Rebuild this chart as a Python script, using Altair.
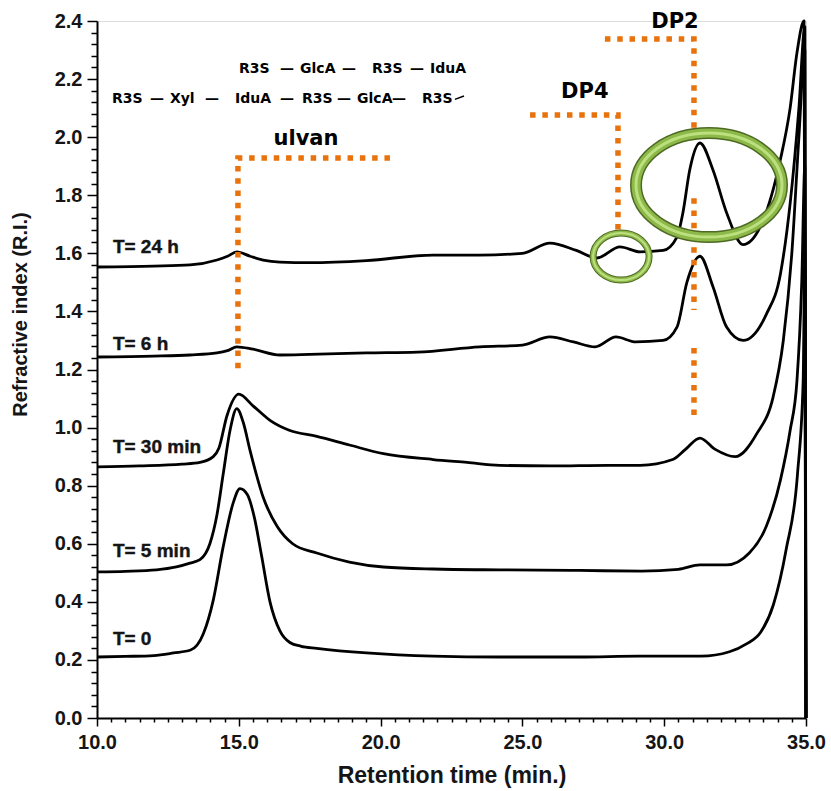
import altair as alt
import pandas as pd

# ---------------- data ----------------
series_names = ["T= 0", "T= 5 min", "T= 30 min", "T= 6 h", "T= 24 h"]

t0_t = [10.0, 11.0, 12.0, 12.7, 13.3, 13.75, 14.1, 14.45, 14.8, 15.04, 15.3, 15.55, 15.8, 16.1, 16.45,
        16.8, 17.2, 17.75, 19.5, 21.85, 24.2, 27.0, 29.1, 31.3, 32.3, 32.9, 33.4, 33.85, 34.3, 34.7,
        34.9, 34.96, 35.0]
t0_v = [0.21, 0.212, 0.215, 0.224, 0.234, 0.29, 0.406, 0.59, 0.74, 0.79, 0.77, 0.69, 0.56, 0.40, 0.30,
        0.26, 0.247, 0.24, 0.224, 0.213, 0.21, 0.21, 0.213, 0.213, 0.228, 0.255, 0.295, 0.39, 0.58, 0.84,
        1.16, 1.6, 0.0]

t5_t = [10.0, 11.0, 12.1, 12.8, 13.28, 13.63, 13.98, 14.23, 14.45, 14.69, 14.93, 15.15, 15.4, 15.86,
        16.35, 16.9, 17.75, 18.9, 20.1, 21.85, 24.2, 27.0, 29.2, 30.5, 31.26, 32.2, 33.0, 33.6, 34.1,
        34.44, 34.68, 34.85, 34.96, 35.0]
t5_v = [0.503, 0.505, 0.51, 0.52, 0.533, 0.545, 0.60, 0.70, 0.84, 0.99, 1.065, 1.02, 0.92, 0.76,
        0.66, 0.60, 0.568, 0.537, 0.52, 0.513, 0.51, 0.508, 0.506, 0.512, 0.527, 0.527, 0.568, 0.66,
        0.82, 0.99, 1.16, 1.5, 1.9, 0.0]

t30_t = [10.0, 11.5, 13.0, 13.63, 14.1, 14.3, 14.58, 15.0, 15.5, 16.1, 16.8, 17.75, 18.9, 20.1, 21.85,
         23.05, 24.2, 26.0, 28.0, 29.15, 30.3, 30.75, 31.26, 31.8, 32.5, 33.27, 33.84, 34.2, 34.5, 34.75,
         34.96, 35.0]
t30_v = [0.865, 0.868, 0.874, 0.88, 0.90, 0.93, 1.04, 1.115, 1.075, 1.025, 0.99, 0.97, 0.94, 0.91, 0.89,
         0.88, 0.87, 0.868, 0.87, 0.87, 0.89, 0.925, 0.964, 0.925, 0.90, 0.98, 1.105, 1.3, 1.6, 2.0,
         2.3, 0.0]

t6h_t = [10.0, 12.0, 13.28, 14.23, 14.6, 14.93, 15.5, 16.45, 17.5, 19.5, 21.3, 23.5, 25.0, 25.97, 26.8,
         27.56, 28.3, 29.0, 29.96, 30.45, 30.8, 31.26, 31.72, 32.2, 32.78, 33.6, 34.1, 34.45, 34.75,
         34.96, 35.0]
t6h_v = [1.243, 1.246, 1.25, 1.257, 1.265, 1.278, 1.27, 1.25, 1.252, 1.257, 1.26, 1.278, 1.284, 1.312,
         1.295, 1.278, 1.312, 1.295, 1.30, 1.346, 1.50, 1.59, 1.485, 1.346, 1.30, 1.39, 1.53, 1.78, 2.1,
         2.38, 0.0]

t24h_t = [10.0, 12.0, 13.28, 14.23, 14.6, 14.93, 15.4, 15.86, 16.45, 17.5, 19.5, 21.85, 23.5, 25.0,
          25.97, 26.9, 27.63, 28.44, 29.15, 29.96, 30.45, 30.66, 30.9, 31.26, 31.72, 32.2, 32.78, 33.38,
          34.09, 34.44, 34.68, 34.93, 35.0]
t24h_v = [1.553, 1.556, 1.56, 1.577, 1.59, 1.605, 1.59, 1.577, 1.57, 1.568, 1.575, 1.594, 1.594, 1.60,
          1.635, 1.61, 1.584, 1.622, 1.605, 1.61, 1.656, 1.74, 1.887, 1.98, 1.887, 1.74, 1.63, 1.69,
          1.92, 2.10, 2.29, 2.40, 0.0]

# curve labels
label_text = ["T= 24 h", "T= 6 h", "T= 30 min", "T= 5 min", "T= 0"]
label_t = [10.56, 10.56, 10.56, 10.56, 10.56]
label_v = [1.601, 1.267, 0.913, 0.554, 0.251]

# axis ticks
x_major = [10.0, 15.0, 20.0, 25.0, 30.0, 35.0]
x_minor_step = 0.5
y_major = [0.0, 0.2, 0.4, 0.6, 0.8, 1.0, 1.2, 1.4, 1.6, 1.8, 2.0, 2.2, 2.4]
y_minor_step = 0.04

# annotations
bracket_seg = ["ulvan", "ulvan", "ulvan", "DP4", "DP4", "DP4", "DP2", "DP2", "DP2",
               "DP2b", "DP2b", "DP2c", "DP2c"]
bracket_t = [20.33, 14.97, 14.97, 25.27, 28.37, 28.37, 27.91, 31.05, 31.05, 31.05, 31.05, 31.05, 31.05]
bracket_v = [1.928, 1.928, 1.19, 2.076, 2.076, 1.67, 2.338, 2.338, 2.032, 1.79, 1.405, 1.274, 1.02]

tag_text = ["ulvan", "DP4", "DP2"]
tag_t = [17.37, 27.2, 30.38]
tag_v = [1.973, 2.135, 2.376]

# sugar-chain tokens (two rows)
chain_tok = ["R3S", "\u2014", "GlcA", "\u2014", "R3S", "\u2014", "IduA",
             "R3S", "\u2014", "Xyl", "\u2014", "IduA", "\u2014", "R3S", "\u2014", "GlcA", "\u2014", "R3S"]
chain_t = [15.01, 16.45, 17.16, 18.64, 19.70, 21.04, 21.74,
           10.53, 11.87, 12.57, 13.81, 14.87, 16.45, 17.23, 18.46, 19.17, 20.40, 21.46]
chain_v = [2.221] * 7 + [2.118] * 11

ring_t = [31.58, 28.48]
ring_v = [1.835, 1.589]

# ---------------- build tables ----------------
rows = []
for name, ts, vs in zip(series_names, [t0_t, t5_t, t30_t, t6h_t, t24h_t],
                        [t0_v, t5_v, t30_v, t6h_v, t24h_v]):
    for i, (t, v) in enumerate(zip(ts, vs)):
        rows.append({"series": name, "i": i, "t": t, "v": v})
curves_df = pd.DataFrame(rows)


def frange(a, b, step):
    out, k = [], 0
    while a + k * step <= b + 1e-9:
        out.append(round(a + k * step, 4))
        k += 1
    return out


x_vals = frange(x_major[0], x_major[-1], x_minor_step)
y_vals = frange(y_major[0], y_major[-1], y_minor_step)

x_scale = alt.Scale(domain=[10, 35], nice=False, zero=False)
y_scale = alt.Scale(domain=[0, 2.4], nice=False, zero=False)

AX_FONT = "Liberation Sans"
INK = "#151515"
x_major_test = "abs(datum.value/5 - round(datum.value/5)) < 1e-6"
y_major_test = "abs(datum.value*5 - round(datum.value*5)) < 1e-6"

X_TITLE = "Retention time (min.)"
Y_TITLE = "Refractive index  (R.I.)"

x_axis = alt.Axis(
    values=x_vals, title=X_TITLE,
    labelExpr=f"({x_major_test}) ? format(datum.value, '.1f') : ''",
    tickSize={"condition": {"test": x_major_test, "value": 8}, "value": 4},
    labelOverlap=False, labelFlush=False, grid=False,
    domainColor="black", domainWidth=2, tickColor="black", tickWidth=1.5,
    labelFont=AX_FONT, labelFontSize=20, labelFontWeight="bold", labelColor=INK,
    labelPadding=6,
    titleFont=AX_FONT, titleFontSize=23, titleFontWeight="bold", titleColor=INK,
    titleX=354.5, titleY=57, titleBaseline="middle", titleAlign="center",
)
y_axis = alt.Axis(
    values=y_vals, title=Y_TITLE,
    labelExpr=f"({y_major_test}) ? format(datum.value, '.1f') : ''",
    tickSize={"condition": {"test": y_major_test, "value": 10}, "value": 6},
    labelOverlap=False, labelFlush=False, grid=False,
    domainColor="black", domainWidth=2, tickColor="black", tickWidth=1.5,
    labelFont=AX_FONT, labelFontSize=20, labelFontWeight="bold", labelColor=INK,
    labelPadding=5,
    titleFont=AX_FONT, titleFontSize=20, titleFontWeight="bold", titleColor=INK,
    titleX=-77, titleY=293, titleAngle=270, titleBaseline="middle", titleAlign="center",
)


def X(field="t"):
    return alt.X(f"{field}:Q", scale=x_scale, axis=x_axis, title=X_TITLE)


def Y(field="v"):
    return alt.Y(f"{field}:Q", scale=y_scale, axis=y_axis, title=Y_TITLE)


curves = alt.Chart(curves_df).mark_line(
    interpolate="monotone", color="black", strokeWidth=2.8, strokeJoin="round"
).encode(x=X(), y=Y(), detail="series:N", order="i:Q")

labels = alt.Chart(pd.DataFrame({"text": label_text, "t": label_t, "v": label_v})).mark_text(
    align="left", baseline="alphabetic", font=AX_FONT, fontSize=19, fontWeight="bold", color=INK,
    stroke=INK, strokeWidth=0.4
).encode(x=X(), y=Y(), text="text:N")

brackets_df = pd.DataFrame({"seg": bracket_seg, "i": list(range(len(bracket_seg))),
                            "t": bracket_t, "v": bracket_v})
brackets = alt.Chart(brackets_df).mark_line(
    color="#E8720C", strokeWidth=5.5, strokeDash=[5.5, 6.8], strokeCap="butt"
).encode(x=X(), y=Y(), detail="seg:N", order="i:Q")

TAG_FONT = "DejaVu Sans"
tags = alt.Chart(pd.DataFrame({"text": tag_text, "t": tag_t, "v": tag_v})).mark_text(
    align="center", baseline="alphabetic", font=TAG_FONT, fontSize=21, fontWeight="bold", color="black"
).encode(x=X(), y=Y(), text="text:N")

chain = alt.Chart(pd.DataFrame({"text": chain_tok, "t": chain_t, "v": chain_v})).mark_text(
    align="left", baseline="alphabetic", font=TAG_FONT, fontSize=14, fontWeight="bold", color="black"
).encode(x=X(), y=Y(), text="text:N")

tick_mark = alt.Chart(pd.DataFrame({"t": [22.62], "t2": [22.94], "v": [2.13], "v2": [2.142]})).mark_rule(
    color="black", strokeWidth=1.5
).encode(x=X(), x2="t2:Q", y=Y(), y2="v2:Q")


def ellipse_path(ratio):
    k = 0.5523
    r = ratio
    return (f"M -1 0 C -1 {-k*r:.4f} {-k:.4f} {-r:.4f} 0 {-r:.4f} "
            f"C {k:.4f} {-r:.4f} 1 {-k*r:.4f} 1 0 "
            f"C 1 {k*r:.4f} {k:.4f} {r:.4f} 0 {r:.4f} "
            f"C {-k:.4f} {r:.4f} -1 {k*r:.4f} -1 0 Z")


def ring(idx, rx, ry, widths):
    df = pd.DataFrame({"t": [ring_t[idx]], "v": [ring_v[idx]]})
    path = ellipse_path(ry / rx)
    layers = []
    for color, w in zip(["#4E6A22", "#8DB84A", "#BCE07E"], widths):
        layers.append(alt.Chart(df).mark_point(
            shape=path, size=4 * rx * rx, filled=False, stroke=color, strokeWidth=w, opacity=1
        ).encode(x=X(), y=Y()))
    return layers


rings = ring(0, 73, 52, [12, 9, 3]) + ring(1, 28, 23.5, [7, 5, 2])

chart = alt.layer(curves, labels, brackets, tags, chain, tick_mark, *rings).properties(
    width=709, height=697,
    autosize=alt.AutoSizeParams(type="none"),
    padding={"left": 97, "top": 21, "right": 25, "bottom": 73},
).configure_view(stroke=None).configure(background="white")

chart.save("out.html", embed_options={"renderer": "svg", "actions": False})
